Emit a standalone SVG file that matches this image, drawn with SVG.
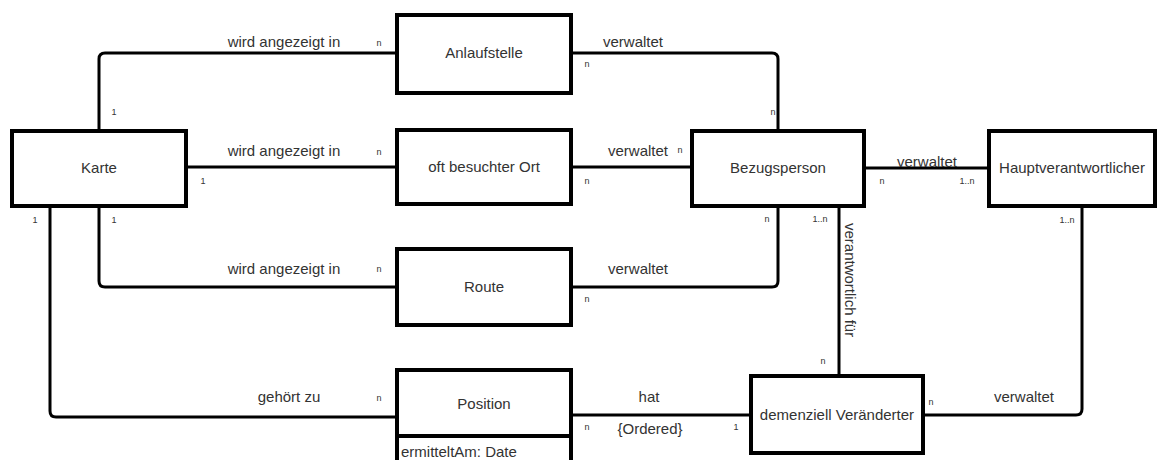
<svg xmlns="http://www.w3.org/2000/svg" width="1159" height="460" viewBox="0 0 1159 460">
  <style>
    .box { fill: #ffffff; stroke: #000000; stroke-width: 4; }
    .edge { fill: none; stroke: #000000; stroke-width: 3; }
    .lbl { font-family: "Liberation Sans", Arial, sans-serif; font-size: 15px; fill: #333333; text-anchor: middle; }
    .card { font-family: "Liberation Sans", Arial, sans-serif; font-size: 9px; fill: #333333; text-anchor: middle; }
  </style>
  <rect width="1159" height="460" fill="#ffffff"/>

  <!-- associations -->
  <g id="connectors">
    <path class="edge" d="M99 131 V59 Q99 53 105 53 H397"/>
    <path class="edge" d="M186 167 H397"/>
    <path class="edge" d="M99 206 V281 Q99 287 105 287 H397"/>
    <path class="edge" d="M50 206 V411 Q50 417 56 417 H397"/>
    <path class="edge" d="M571 53 H772 Q778 53 778 59 V131"/>
    <path class="edge" d="M571 167 H692"/>
    <path class="edge" d="M571 287 H772 Q778 287 778 281 V206"/>
    <path class="edge" d="M864 168 H989"/>
    <path class="edge" d="M839 206 V376"/>
    <path class="edge" d="M571 415 H751"/>
    <path class="edge" d="M923 415 H1076 Q1082 415 1082 409 V206"/>

    <text class="lbl" x="284" y="47">wird angezeigt in</text>
    <text class="lbl" x="284" y="156">wird angezeigt in</text>
    <text class="lbl" x="284" y="274">wird angezeigt in</text>
    <text class="lbl" x="289" y="402">gehört zu</text>
    <text class="lbl" x="633" y="47">verwaltet</text>
    <text class="lbl" x="638" y="156">verwaltet</text>
    <text class="lbl" x="638" y="274">verwaltet</text>
    <text class="lbl" x="927" y="167">verwaltet</text>
    <text class="lbl" x="649" y="402">hat</text>
    <text class="lbl" x="650" y="434">{Ordered}</text>
    <text class="lbl" x="1024" y="402">verwaltet</text>
    <text class="lbl" style="text-anchor:start" transform="translate(845 223) rotate(90)">verantwortlich für</text>

    <text class="card" x="379" y="46">n</text>
    <text class="card" x="114" y="115">1</text>
    <text class="card" x="379" y="155">n</text>
    <text class="card" x="203" y="184">1</text>
    <text class="card" x="35" y="223">1</text>
    <text class="card" x="114" y="223">1</text>
    <text class="card" x="379" y="272">n</text>
    <text class="card" x="379" y="401">n</text>
    <text class="card" x="587" y="67">n</text>
    <text class="card" x="773" y="115">n</text>
    <text class="card" x="680" y="153">n</text>
    <text class="card" x="587" y="184">n</text>
    <text class="card" x="882" y="184">n</text>
    <text class="card" x="967" y="184">1..n</text>
    <text class="card" x="767" y="222">n</text>
    <text class="card" x="820" y="222">1..n</text>
    <text class="card" x="1067" y="223">1..n</text>
    <text class="card" x="587" y="302">n</text>
    <text class="card" x="587" y="430">n</text>
    <text class="card" x="736" y="430">1</text>
    <text class="card" x="823" y="364">n</text>
    <text class="card" x="931" y="405">n</text>
  </g>

  <!-- classes -->
  <g id="karte">
    <rect class="box" x="12" y="131" width="174" height="75"/>
    <text class="lbl" x="99" y="173">Karte</text>
  </g>
  <g id="anlaufstelle">
    <rect class="box" x="397" y="15" width="174" height="78"/>
    <text class="lbl" x="484" y="58">Anlaufstelle</text>
  </g>
  <g id="oft-besuchter-ort">
    <rect class="box" x="397" y="130" width="174" height="74"/>
    <text class="lbl" x="484" y="172">oft besuchter Ort</text>
  </g>
  <g id="bezugsperson">
    <rect class="box" x="692" y="131" width="172" height="75"/>
    <text class="lbl" x="778" y="173">Bezugsperson</text>
  </g>
  <g id="hauptverantwortlicher">
    <rect class="box" x="989" y="131" width="166" height="75"/>
    <text class="lbl" x="1072" y="173">Hauptverantwortlicher</text>
  </g>
  <g id="route">
    <rect class="box" x="397" y="249" width="174" height="76"/>
    <text class="lbl" x="484" y="292">Route</text>
  </g>
  <g id="position">
    <rect class="box" x="397" y="436" width="174" height="40"/>
    <rect class="box" x="397" y="370" width="174" height="66"/>
    <text class="lbl" x="484" y="409">Position</text>
    <text class="lbl" style="text-anchor:start" x="401" y="457">ermitteltAm: Date</text>
  </g>
  <g id="demenziell-veraenderter">
    <rect class="box" x="751" y="376" width="172" height="77"/>
    <text class="lbl" x="837" y="420">demenziell Veränderter</text>
  </g>
</svg>
